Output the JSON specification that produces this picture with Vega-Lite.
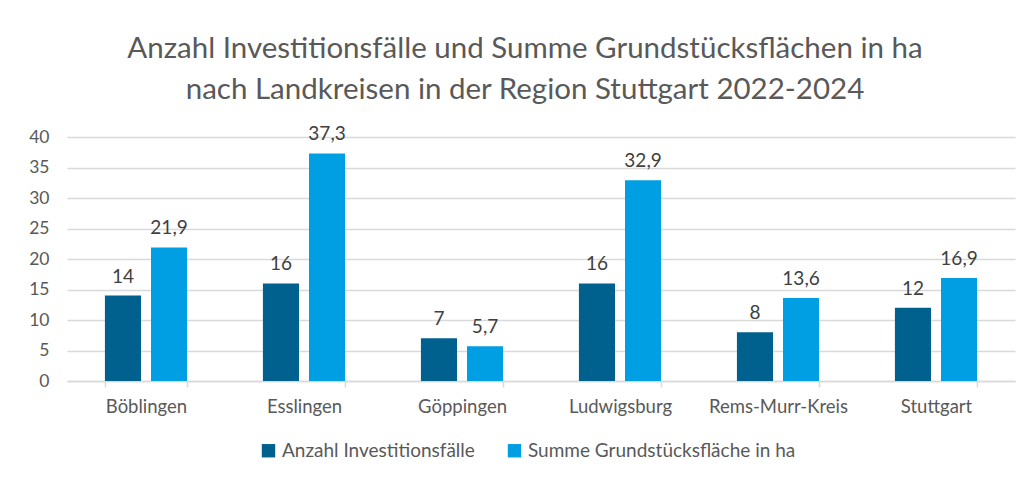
{
  "$schema": "https://vega.github.io/schema/vega-lite/v6.json",
  "autosize": "none",
  "width": 948,
  "height": 244,
  "padding": {"left": 67, "top": 137, "right": 20, "bottom": 101},
  "background": "white",
  "title": {
    "text": ["Anzahl Investitionsfälle und Summe Grundstücksflächen in ha", "nach Landkreisen in der Region Stuttgart 2022-2024"],
    "font": "Lato",
    "fontSize": 29.5,
    "fontWeight": "normal",
    "color": "#595959",
    "anchor": "middle",
    "dx": -16,
    "offset": 20,
    "lineHeight": 41
  },
  "data": {
    "values": [
      {"kreis": "Böblingen", "serie": "Anzahl Investitionsfälle", "wert": 14, "label": "14"},
      {"kreis": "Böblingen", "serie": "Summe Grundstücksfläche in ha", "wert": 21.9, "label": "21,9"},
      {"kreis": "Esslingen", "serie": "Anzahl Investitionsfälle", "wert": 16, "label": "16"},
      {"kreis": "Esslingen", "serie": "Summe Grundstücksfläche in ha", "wert": 37.3, "label": "37,3"},
      {"kreis": "Göppingen", "serie": "Anzahl Investitionsfälle", "wert": 7, "label": "7"},
      {"kreis": "Göppingen", "serie": "Summe Grundstücksfläche in ha", "wert": 5.7, "label": "5,7"},
      {"kreis": "Ludwigsburg", "serie": "Anzahl Investitionsfälle", "wert": 16, "label": "16"},
      {"kreis": "Ludwigsburg", "serie": "Summe Grundstücksfläche in ha", "wert": 32.9, "label": "32,9"},
      {"kreis": "Rems-Murr-Kreis", "serie": "Anzahl Investitionsfälle", "wert": 8, "label": "8"},
      {"kreis": "Rems-Murr-Kreis", "serie": "Summe Grundstücksfläche in ha", "wert": 13.6, "label": "13,6"},
      {"kreis": "Stuttgart", "serie": "Anzahl Investitionsfälle", "wert": 12, "label": "12"},
      {"kreis": "Stuttgart", "serie": "Summe Grundstücksfläche in ha", "wert": 16.9, "label": "16,9"}
    ]
  },
  "encoding": {
    "x": {
      "field": "kreis",
      "type": "nominal",
      "sort": null,
      "title": null,
      "scale": {"paddingInner": 0.48, "paddingOuter": 0.24},
      "axis": {
        "labelAngle": 0,
        "labelFont": "Lato",
        "labelFontSize": 18.5,
        "labelColor": "#595959",
        "domainColor": "#d9d9d9",
        "domainWidth": 1.5,
        "tickColor": "#d9d9d9",
        "tickWidth": 1.5,
        "tickSize": 6,
        "tickBand": "extent",
        "labelPadding": 10,
        "grid": false
      }
    },
    "xOffset": {
      "field": "serie",
      "type": "nominal",
      "scale": {"paddingInner": 0.217, "paddingOuter": 0}
    },
    "y": {
      "field": "wert",
      "type": "quantitative",
      "title": null,
      "scale": {"domain": [0, 40]},
      "axis": {
        "values": [0, 5, 10, 15, 20, 25, 30, 35, 40],
        "labelFont": "Lato",
        "labelFontSize": 17.5,
        "labelColor": "#595959",
        "domain": false,
        "ticks": false,
        "labelPadding": 18,
        "gridColor": "#d9d9d9",
        "gridWidth": 1.5
      }
    }
  },
  "layer": [
    {
      "mark": {"type": "bar"},
      "encoding": {
        "color": {
          "field": "serie",
          "type": "nominal",
          "scale": {"range": ["#00618f", "#009fe3"]},
          "legend": {
            "title": null,
            "orient": "none",
            "legendX": 192,
            "legendY": 304,
            "direction": "horizontal",
            "symbolType": "square",
            "symbolSize": 180,
            "symbolStrokeWidth": 0,
            "labelFont": "Lato",
            "labelFontSize": 19,
            "labelColor": "#595959",
            "labelLimit": 400,
            "labelOffset": 4,
            "columnPadding": 30
          }
        }
      }
    },
    {
      "mark": {"type": "text", "baseline": "bottom", "dy": -9, "font": "Lato", "fontSize": 19, "color": "#404040"},
      "encoding": {
        "text": {"field": "label"}
      }
    }
  ],
  "config": {"view": {"stroke": null}}
}
